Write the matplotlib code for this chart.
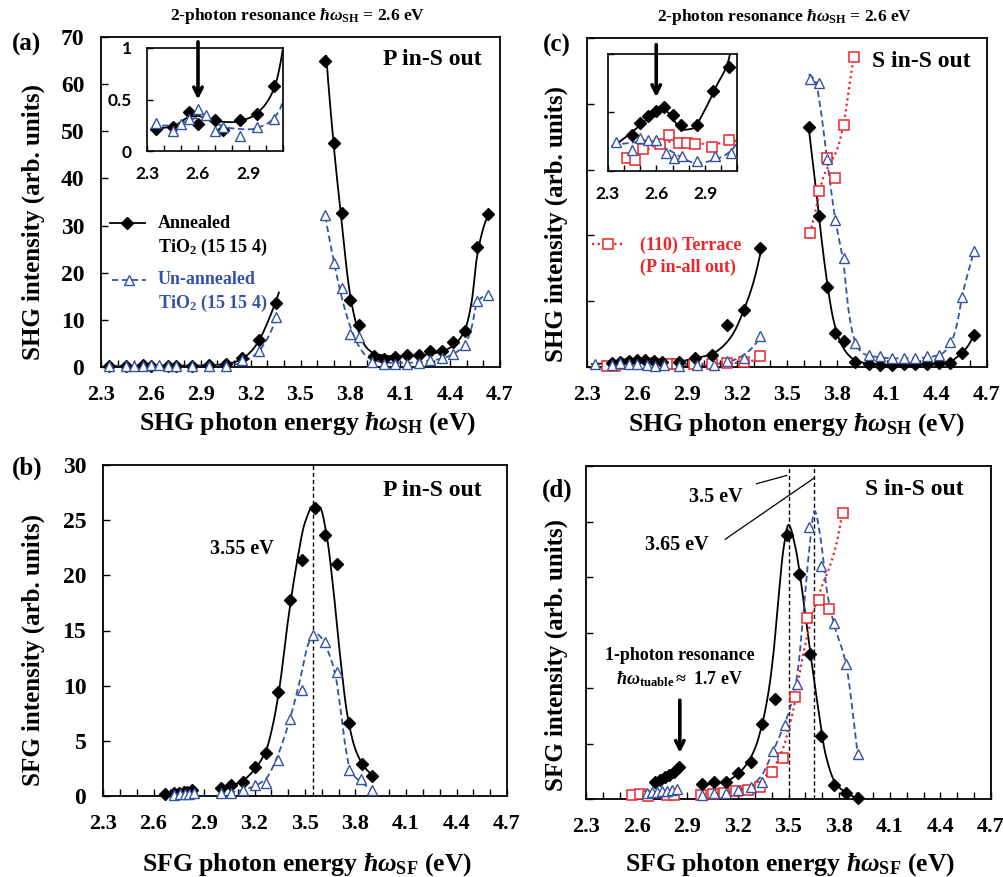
import numpy as np
import matplotlib
matplotlib.use("Agg")
import matplotlib.pyplot as plt
from matplotlib.ticker import MultipleLocator
from matplotlib.lines import Line2D

plt.rcParams['font.family'] = ['Liberation Serif', 'DejaVu Serif']
plt.rcParams['font.weight'] = 'bold'
plt.rcParams['mathtext.fontset'] = 'custom'
plt.rcParams['mathtext.rm'] = 'Liberation Serif:bold'
plt.rcParams['mathtext.it'] = 'Liberation Serif:italic:bold'
plt.rcParams['mathtext.bf'] = 'Liberation Serif:bold'

# ---------------- data ----------------
XTICKS = [2.3, 2.6, 2.9, 3.2, 3.5, 3.8, 4.1, 4.4, 4.7]
XTICK_LABELS = ["2.3", "2.6", "2.9", "3.2", "3.5", "3.8", "4.1", "4.4", "4.7"]
INSET_XTICKS = [2.3, 2.6, 2.9]
INSET_XTICK_LABELS = ["2.3", "2.6", "2.9"]

# (a) SHG, P in-S out
a_ann_E = [2.35, 2.45, 2.55, 2.60, 2.70, 2.75, 2.85, 2.95, 3.05, 3.15, 3.25, 3.35,
           3.65, 3.70, 3.75, 3.80, 3.85, 3.94, 4.00, 4.07, 4.14, 4.21, 4.28, 4.35, 4.42, 4.49, 4.56, 4.63]
a_ann_I = [0.21, 0.23, 0.38, 0.26, 0.30, 0.20, 0.30, 0.36, 0.63, 1.9, 5.7, 13.6,
           65.0, 47.5, 32.7, 14.3, 8.9, 2.3, 1.8, 2.1, 2.5, 2.5, 3.3, 3.3, 5.4, 7.6, 25.4, 32.5]
a_un_E = [2.35, 2.45, 2.50, 2.55, 2.60, 2.65, 2.70, 2.75, 2.85, 2.95, 3.05, 3.15, 3.25, 3.35,
          3.65, 3.70, 3.75, 3.80, 3.85, 3.93, 4.00, 4.07, 4.14, 4.21, 4.28, 4.35, 4.42, 4.49, 4.56, 4.63]
a_un_I = [0.27, 0.19, 0.26, 0.31, 0.41, 0.35, 0.19, 0.23, 0.15, 0.23, 0.31, 1.5, 3.3, 10.6,
          32.2, 22.0, 16.7, 7.1, 6.4, 1.1, 0.7, 0.7, 0.7, 0.9, 1.5, 1.9, 2.7, 4.7, 13.9, 15.3]
a_ann_fit_low_E = [2.33, 2.45, 2.55, 2.60, 2.70, 2.80, 2.90, 2.98, 3.05, 3.10, 3.15, 3.20, 3.25, 3.30, 3.35, 3.37]
a_ann_fit_low_I = [0.21, 0.24, 0.33, 0.34, 0.29, 0.28, 0.32, 0.42, 0.62, 1.0, 1.8, 3.2, 5.6, 9.3, 13.8, 15.8]
a_un_fit_low_E = [2.33, 2.45, 2.55, 2.62, 2.70, 2.80, 2.90, 3.00, 3.08, 3.15, 3.20, 3.25, 3.30, 3.36]
a_un_fit_low_I = [0.24, 0.25, 0.30, 0.33, 0.27, 0.22, 0.21, 0.26, 0.40, 1.0, 1.9, 3.4, 6.0, 11.0]
a_ann_fit_high_E = [3.655, 3.70, 3.75, 3.80, 3.85, 3.90, 3.95, 4.05, 4.15, 4.25, 4.35, 4.42, 4.49, 4.53, 4.56, 4.60, 4.63]
a_ann_fit_high_I = [66, 47, 30, 15, 7.5, 4.0, 2.8, 2.3, 2.3, 2.6, 3.3, 4.6, 8.0, 14.0, 23.0, 29.5, 32.5]
a_un_fit_high_E = [3.65, 3.70, 3.75, 3.80, 3.85, 3.90, 3.95, 4.05, 4.15, 4.25, 4.35, 4.42, 4.49, 4.53, 4.56, 4.60, 4.63]
a_un_fit_high_I = [32, 22.5, 14.5, 8.5, 4.5, 2.2, 1.3, 0.9, 0.9, 1.2, 1.8, 2.8, 4.8, 8.5, 13.5, 15.0, 15.5]

# (b) SFG, P in-S out
b_ann_E = [2.67, 2.72, 2.75, 2.78, 2.80, 2.83, 3.00, 3.06, 3.13, 3.20, 3.27, 3.34, 3.41, 3.48,
           3.56, 3.62, 3.69, 3.76, 3.84, 3.90]
b_ann_I = [0.18, 0.3, 0.3, 0.35, 0.4, 0.55, 0.7, 1.0, 1.3, 2.6, 3.9, 9.4, 17.8, 21.4,
           26.1, 23.7, 21.0, 6.6, 2.9, 1.8]
b_un_E = [2.72, 2.76, 2.79, 2.81, 2.84, 3.00, 3.06, 3.13, 3.20, 3.27, 3.34, 3.41, 3.48, 3.55,
          3.62, 3.69, 3.76, 3.83, 3.90]
b_un_I = [0.1, 0.15, 0.2, 0.2, 0.25, 0.3, 0.3, 0.5, 1.0, 1.2, 3.3, 7.0, 9.6, 14.6,
          14.0, 11.2, 2.4, 1.5, 0.5]
b_ann_fit_E = [2.99, 3.06, 3.13, 3.20, 3.27, 3.31, 3.35, 3.40, 3.45, 3.50, 3.55, 3.59, 3.63, 3.67,
               3.71, 3.75, 3.80, 3.85, 3.91]
b_ann_fit_I = [0.6, 0.9, 1.4, 2.4, 4.2, 6.5, 10.0, 16.0, 21.0, 24.8, 26.3, 26.1, 23.5, 18.5,
               12.5, 7.5, 4.2, 2.7, 1.7]
b_un_fit_E = [2.99, 3.06, 3.13, 3.20, 3.27, 3.32, 3.37, 3.42, 3.47, 3.52, 3.555, 3.60, 3.64, 3.68,
              3.71, 3.74, 3.77, 3.83, 3.90]
b_un_fit_I = [0.3, 0.35, 0.55, 0.9, 1.6, 3.0, 5.0, 7.5, 10.5, 13.8, 14.8, 14.3, 13.0, 11.0,
              8.0, 4.5, 2.3, 1.3, 0.5]
b_peak = 3.55

# (c) SHG, S in-S out (+ terrace)
c_ann_E = [2.45, 2.50, 2.55, 2.60, 2.65, 2.70, 2.75, 2.85, 2.95, 3.05, 3.14, 3.24, 3.34,
           3.63, 3.69, 3.74, 3.79, 3.84, 3.91, 3.99, 4.06, 4.13, 4.20, 4.27, 4.34, 4.41, 4.48, 4.55, 4.62]
c_ann_I = [0.62, 0.82, 0.94, 1.02, 1.10, 0.96, 0.78, 0.78, 1.36, 1.78, 6.4, 8.7, 18.1,
           36.5, 22.9, 12.1, 5.1, 4.0, 0.7, 0.5, 0.3, 0.3, 0.5, 0.5, 0.5, 0.55, 0.55, 2.2, 4.8]
c_un_E = [2.35, 2.45, 2.50, 2.55, 2.60, 2.66, 2.71, 2.76, 2.85, 2.96, 3.06, 3.14, 3.24, 3.34,
          3.64, 3.69, 3.74, 3.79, 3.84, 3.91, 3.99, 4.06, 4.13, 4.20, 4.27, 4.34, 4.41, 4.48, 4.55, 4.62]
c_un_I = [0.50, 0.36, 0.56, 0.52, 0.52, 0.30, 0.22, 0.26, 0.16, 0.26, 0.30, 0.96, 1.3, 4.7,
          43.7, 43.1, 31.6, 22.4, 16.6, 3.6, 1.8, 1.7, 1.3, 1.3, 1.3, 1.7, 1.8, 3.8, 10.7, 17.7]
c_ter_E = [2.42, 2.47, 2.52, 2.62, 2.68, 2.74, 2.79, 2.84, 2.94, 3.05, 3.14, 3.24, 3.34,
           3.64, 3.69, 3.74, 3.79, 3.84, 3.90]
c_ter_I = [0.22, 0.18, 0.38, 0.46, 0.62, 0.48, 0.48, 0.46, 0.40, 0.52, 0.55, 0.7, 1.67,
           20.3, 26.8, 31.8, 28.7, 36.8, 47.1]
c_ann_fit_low_E = [2.33, 2.45, 2.55, 2.64, 2.70, 2.76, 2.82, 2.90, 2.97, 3.04, 3.10, 3.17, 3.24, 3.30, 3.35]
c_ann_fit_low_I = [0.42, 0.66, 0.90, 1.07, 0.90, 0.70, 0.72, 1.05, 1.45, 1.85, 2.8, 4.8, 8.6, 13.0, 18.5]
c_un_fit_low_E = [2.33, 2.45, 2.55, 2.65, 2.75, 2.85, 2.95, 3.05, 3.15, 3.25, 3.35]
c_un_fit_low_I = [0.44, 0.48, 0.52, 0.40, 0.24, 0.13, 0.18, 0.32, 0.8, 2.0, 5.0]
c_ter_fit_low_E = [2.42, 2.50, 2.60, 2.70, 2.80, 2.90, 3.00, 3.10, 3.20, 3.30, 3.35]
c_ter_fit_low_I = [0.22, 0.30, 0.44, 0.50, 0.48, 0.46, 0.47, 0.52, 0.62, 1.0, 1.6]
c_ann_fit_high_E = [3.63, 3.67, 3.70, 3.74, 3.78, 3.82, 3.87, 3.92, 4.00, 4.10, 4.20, 4.30, 4.40, 4.48, 4.53, 4.58, 4.62]
c_ann_fit_high_I = [36.5, 28, 21, 13, 7, 3.8, 1.8, 0.9, 0.5, 0.35, 0.4, 0.45, 0.55, 0.9, 1.7, 3.0, 4.8]
c_un_fit_high_E = [3.63, 3.67, 3.70, 3.74, 3.79, 3.84, 3.87, 3.91, 3.96, 4.05, 4.15, 4.25, 4.35, 4.42, 4.48, 4.52, 4.55, 4.62]
c_un_fit_high_I = [44.5, 43.5, 39.5, 31.6, 22.4, 15.5, 8.5, 3.8, 2.0, 1.5, 1.3, 1.3, 1.5, 1.9, 3.5, 6.5, 10.7, 17.7]
c_ter_fit_high_E = [3.63, 3.66, 3.69, 3.72, 3.76, 3.80, 3.84, 3.87, 3.905]
c_ter_fit_high_I = [19.5, 22.5, 26.0, 29.0, 31.0, 33.0, 37.0, 42.0, 48.0]

# (d) SFG, S in-S out (+ terrace)
d_ann_E = [2.71, 2.74, 2.77, 2.79, 2.82, 2.85, 2.99, 3.06, 3.13, 3.20, 3.28, 3.34, 3.42, 3.49,
           3.56, 3.63, 3.69, 3.77, 3.84, 3.91]
d_ann_I = [3.0, 3.4, 4.0, 4.4, 4.9, 5.8, 2.7, 3.1, 3.1, 4.7, 6.7, 13.5, 18.0, 47.6,
           40.5, 26.1, 11.4, 2.5, 1.1, 0.1]
d_un_E = [2.66, 2.69, 2.72, 2.75, 2.78, 2.81, 2.84, 2.99, 3.06, 3.13, 3.20, 3.28, 3.34, 3.41,
          3.48, 3.55, 3.62, 3.69, 3.77, 3.84, 3.91]
d_un_I = [1.0, 1.3, 1.3, 1.5, 1.5, 1.7, 1.8, 0.8, 1.1, 1.1, 1.7, 2.2, 3.0, 8.7,
          13.3, 20.8, 49.0, 42.0, 31.7, 24.4, 8.1]
d_ter_E = [2.57, 2.62, 2.67, 2.78, 2.82, 2.98, 3.05, 3.12, 3.19, 3.26, 3.33, 3.40, 3.47,
           3.54, 3.61, 3.68, 3.74, 3.82]
d_ter_I = [0.7, 0.9, 0.6, 0.8, 0.8, 0.7, 0.9, 1.1, 1.5, 1.7, 2.1, 4.9, 7.3,
           18.4, 32.6, 35.9, 34.2, 51.5]
d_ann_fit_E = [2.97, 3.06, 3.13, 3.20, 3.25, 3.30, 3.34, 3.38, 3.41, 3.44, 3.47, 3.50, 3.54, 3.57,
               3.60, 3.64, 3.68, 3.72, 3.78, 3.86, 3.91]
d_ann_fit_I = [2.4, 2.8, 3.2, 4.5, 6.2, 9.0, 13.0, 19.0, 26.0, 36.0, 45.0, 49.4, 45.5, 40.0,
               33.0, 24.0, 15.5, 8.0, 2.8, 0.8, 0.1]
d_un_fit_E = [2.97, 3.10, 3.20, 3.28, 3.34, 3.40, 3.45, 3.50, 3.55, 3.59, 3.62, 3.655, 3.69, 3.73,
              3.77, 3.84, 3.91]
d_un_fit_I = [0.8, 1.1, 1.6, 2.5, 4.2, 8.0, 11.5, 15.5, 22.0, 34.0, 44.0, 51.9, 47.0, 37.0,
              31.5, 24.4, 8.1]
d_ter_fit_E = [3.26, 3.30, 3.35, 3.41, 3.46, 3.50, 3.54, 3.58, 3.62, 3.66, 3.70, 3.74, 3.78, 3.82]
d_ter_fit_I = [1.7, 2.6, 3.8, 5.6, 8.5, 12.4, 17.8, 25.0, 30.5, 35.0, 38.5, 41.5, 45.5, 51.5]
d_peaks = [3.5, 3.65]

BLUE = '#3553A4'
RED = '#E8262B'
W, H = 1004, 877


def rect(l, t, r, b):
    return [l / W, 1 - b / H, (r - l) / W, (b - t) / H]


def pchip(x, y, xn):
    x = np.asarray(x, float); y = np.asarray(y, float)
    h = np.diff(x); d = np.diff(y) / h
    n = len(x); m = np.zeros(n)
    m[0] = d[0]; m[-1] = d[-1]
    for k in range(1, n - 1):
        if d[k - 1] * d[k] > 0:
            w1 = 2 * h[k] + h[k - 1]; w2 = h[k] + 2 * h[k - 1]
            m[k] = (w1 + w2) / (w1 / d[k - 1] + w2 / d[k])
    idx = np.clip(np.searchsorted(x, xn) - 1, 0, n - 2)
    t = (xn - x[idx]) / h[idx]
    h00 = 2 * t**3 - 3 * t**2 + 1; h10 = t**3 - 2 * t**2 + t
    h01 = -2 * t**3 + 3 * t**2; h11 = t**3 - t**2
    return h00 * y[idx] + h10 * h[idx] * m[idx] + h01 * y[idx + 1] + h11 * h[idx] * m[idx + 1]


def curve(ax, xs, ys, log=False, **kw):
    xn = np.linspace(xs[0], xs[-1], 400)
    if log:
        yn = np.exp(pchip(xs, np.log(ys), xn))
    else:
        yn = pchip(xs, ys, xn)
    ax.plot(xn, yn, **kw)


ANN = dict(color='k', lw=1.3, ls='-')
UN = dict(color=BLUE, lw=1.3, ls=(0, (3.5, 2)))
TER = dict(color=RED, lw=1.6, ls=(0, (1, 1.5)))
MK_ANN = dict(ls='none', marker='D', ms=5.8, mfc='k', mec='k', zorder=5)
MK_UN = dict(ls='none', marker='^', ms=7.5, mfc='white', mec=BLUE, mew=1.0, zorder=6)
MK_TER = dict(ls='none', marker='s', ms=7.3, mfc='white', mec=RED, mew=1.1, zorder=4)


def style_main(ax, ylim, yticks, ylabels=True):
    ax.set_xlim(2.3, 4.7)
    ax.set_ylim(*ylim)
    ax.set_xticks(XTICKS, labels=XTICK_LABELS)
    ax.xaxis.set_minor_locator(MultipleLocator(0.1))
    ax.set_yticks(yticks)
    if not ylabels:
        ax.set_yticklabels([])
    ax.tick_params(axis='both', which='both', direction='in', length=5, width=1.0)
    ax.tick_params(axis='x', labelsize=16, pad=13)
    ax.tick_params(axis='y', labelsize=17, pad=12)
    for s in ax.spines.values():
        s.set_linewidth(1.3)


def style_inset(ax, ylim, yticks, ylabels):
    ax.set_xlim(2.3, 3.1)
    ax.set_ylim(*ylim)
    ax.set_xticks(INSET_XTICKS, labels=INSET_XTICK_LABELS)
    ax.xaxis.set_minor_locator(MultipleLocator(0.1))
    ax.set_yticks(yticks)
    if ylabels is None:
        ax.set_yticklabels([])
    else:
        ax.set_yticklabels(ylabels)
    ax.tick_params(axis='both', which='both', direction='in', length=4, width=1.0)
    ax.tick_params(axis='x', labelsize=12.5, pad=11)
    ax.tick_params(axis='y', labelsize=12.5, pad=11)
    for lab in ax.get_xticklabels() + ax.get_yticklabels():
        lab.set_fontfamily(['Lato', 'DejaVu Sans'])
        lab.set_fontweight('bold')
    for s in ax.spines.values():
        s.set_linewidth(1.2)


fig = plt.figure(figsize=(10.04, 8.77), dpi=100)


def ftext(px, py, s, **kw):
    return fig.text(px / W, 1 - py / H, s, **kw)


# ---------------- (a) ----------------
ax = fig.add_axes(rect(101, 37, 500, 367))
style_main(ax, (0, 70), [0, 10, 20, 30, 40, 50, 60, 70])
curve(ax, a_ann_fit_low_E, a_ann_fit_low_I, log=True, **ANN)
curve(ax, a_ann_fit_high_E, a_ann_fit_high_I, log=True, **ANN)
curve(ax, a_un_fit_low_E, a_un_fit_low_I, log=True, **UN)
curve(ax, a_un_fit_high_E, a_un_fit_high_I, log=True, **UN)
ax.plot(a_ann_E, a_ann_I, clip_on=False, **MK_ANN)
ax.plot(a_un_E, a_un_I, clip_on=False, **MK_UN)
ax.text(0.83, 0.933, "P in-S out", transform=ax.transAxes, ha='center', va='center', fontsize=17)

ins = fig.add_axes(rect(147, 48, 283, 151))
style_inset(ins, (0, 1), [0, 0.5, 1], ["0", "0.5", "1"])
curve(ins, a_ann_fit_low_E, a_ann_fit_low_I, log=True, **ANN)
curve(ins, a_un_fit_low_E, a_un_fit_low_I, log=True, **UN)
ins.plot(a_ann_E, a_ann_I, **MK_ANN)
ins.plot(a_un_E, a_un_I, **MK_UN)
ins.annotate('', xy=(2.6, 0.5), xytext=(2.6, 1.06), annotation_clip=False,
             arrowprops=dict(arrowstyle='->,head_length=0.6,head_width=0.3', lw=2.6, color='k',
                             shrinkA=0, shrinkB=0))

# legend (a)
fig.add_artist(Line2D([110 / W, 145 / W], [1 - 223 / H] * 2, transform=fig.transFigure, **ANN))
fig.add_artist(Line2D([127 / W], [1 - 223 / H], transform=fig.transFigure, **MK_ANN))
fig.add_artist(Line2D([112 / W, 146 / W], [1 - 280 / H] * 2, transform=fig.transFigure, **UN))
fig.add_artist(Line2D([129 / W], [1 - 280 / H], transform=fig.transFigure, **MK_UN))
ftext(158, 224, "Annealed", ha='left', va='center', fontsize=13)
ftext(158, 247, r"TiO$_{\mathrm{2}}$ (15 15 4)", ha='left', va='center', fontsize=13)
ftext(158, 280, "Un-annealed", ha='left', va='center', fontsize=13, color=BLUE)
ftext(158, 303, r"TiO$_{\mathrm{2}}$ (15 15 4)", ha='left', va='center', fontsize=13, color=BLUE)

# ---------------- (c) ----------------
ax = fig.add_axes(rect(587, 38, 987, 367))
style_main(ax, (0, 50), [0, 10, 20, 30, 40, 50], ylabels=False)
curve(ax, c_ann_fit_low_E, c_ann_fit_low_I, log=True, **ANN)
curve(ax, c_ann_fit_high_E, c_ann_fit_high_I, log=True, **ANN)
curve(ax, c_un_fit_low_E, c_un_fit_low_I, log=True, **UN)
curve(ax, c_un_fit_high_E, c_un_fit_high_I, log=True, **UN)
curve(ax, c_ter_fit_low_E, c_ter_fit_low_I, log=True, **TER)
curve(ax, c_ter_fit_high_E, c_ter_fit_high_I, log=False, **TER)
ax.plot(c_ter_E, c_ter_I, clip_on=False, **MK_TER)
ax.plot(c_ann_E, c_ann_I, clip_on=False, **MK_ANN)
ax.plot(c_un_E, c_un_I, clip_on=False, **MK_UN)
ax.text(0.835, 0.93, "S in-S out", transform=ax.transAxes, ha='center', va='center', fontsize=17)

ins = fig.add_axes(rect(607.5, 54, 737.5, 170.7))
style_inset(ins, (0, 2), [0, 1, 2], None)
curve(ins, c_ann_fit_low_E, c_ann_fit_low_I, log=True, **ANN)
curve(ins, c_un_fit_low_E, c_un_fit_low_I, log=True, **UN)
curve(ins, c_ter_fit_low_E, c_ter_fit_low_I, log=True, **TER)
ins.plot(c_ter_E, c_ter_I, **MK_TER)
ins.plot(c_ann_E, c_ann_I, **MK_ANN)
ins.plot(c_un_E, c_un_I, **MK_UN)
ins.annotate('', xy=(2.6, 1.26), xytext=(2.6, 2.16), annotation_clip=False,
             arrowprops=dict(arrowstyle='->,head_length=0.6,head_width=0.3', lw=2.6, color='k',
                             shrinkA=0, shrinkB=0))

fig.add_artist(Line2D([592 / W, 624 / W], [1 - 244 / H] * 2, transform=fig.transFigure, **TER))
fig.add_artist(Line2D([608 / W], [1 - 244 / H], transform=fig.transFigure, **MK_TER))
ftext(640, 245, "(110) Terrace", ha='left', va='center', fontsize=13, color=RED)
ftext(640, 267, "(P in-all out)", ha='left', va='center', fontsize=13, color=RED)

# ---------------- (b) ----------------
ax = fig.add_axes(rect(103, 465, 507, 796))
style_main(ax, (0, 30), [0, 5, 10, 15, 20, 25, 30])
ax.axvline(b_peak, color='k', lw=1.0, ls=(0, (3, 2)))
curve(ax, b_ann_fit_E, b_ann_fit_I, **ANN)
curve(ax, b_un_fit_E, b_un_fit_I, **UN)
ax.plot(b_ann_E[:6], b_ann_I[:6], color='k', lw=1.0)
ax.plot(b_un_E[:5], b_un_I[:5], color=BLUE, lw=1.0, ls=(0, (3.5, 2)))
ax.plot(b_ann_E, b_ann_I, clip_on=False, **MK_ANN)
ax.plot(b_un_E, b_un_I, clip_on=False, **MK_UN)
ax.text(3.126, 22.4, "3.55 eV", ha='center', va='center', fontsize=14.5)
ax.text(0.814, 0.924, "P in-S out", transform=ax.transAxes, ha='center', va='center', fontsize=17)

# ---------------- (d) ----------------
ax = fig.add_axes(rect(586, 466, 991, 799))
style_main(ax, (0, 60), [0, 10, 20, 30, 40, 50, 60], ylabels=False)
for p in d_peaks:
    ax.axvline(p, color='k', lw=1.0, ls=(0, (3, 2)))
curve(ax, d_ann_fit_E, d_ann_fit_I, **ANN)
curve(ax, d_un_fit_E, d_un_fit_I, **UN)
curve(ax, d_ter_fit_E, d_ter_fit_I, **TER)
ax.plot(d_ann_E[:6], d_ann_I[:6], color='k', lw=1.0)
ax.plot(d_un_E[:7], d_un_I[:7], color=BLUE, lw=1.0, ls=(0, (3.5, 2)))
ax.plot(d_ter_E, d_ter_I, clip_on=False, **MK_TER)
ax.plot(d_ann_E, d_ann_I, clip_on=False, **MK_ANN)
ax.plot(d_un_E, d_un_I, clip_on=False, **MK_UN)
ax.text(3.07, 54.4, "3.5 eV", ha='center', va='center', fontsize=14.5)
ax.text(2.84, 45.8, "3.65 eV", ha='center', va='center', fontsize=14.5)
ax.plot([3.31, 3.49], [56.8, 58.3], color='k', lw=0.9)
ax.plot([3.125, 3.65], [46.8, 57.8], color='k', lw=0.9)
ax.text(2.856, 25.9, "1-photon resonance", ha='center', va='center', fontsize=13)
ax.text(2.856, 21.6, r"$\hbar\omega_{\mathrm{tuable}}\approx$ 1.7 eV", ha='center', va='center', fontsize=13)
ax.annotate('', xy=(2.856, 8.3), xytext=(2.856, 17.8),
            arrowprops=dict(arrowstyle='->,head_length=0.6,head_width=0.3', lw=2.6, color='k',
                            shrinkA=0, shrinkB=0))
ax.text(0.81, 0.93, "S in-S out", transform=ax.transAxes, ha='center', va='center', fontsize=17)

# ---------------- labels ----------------
ftext(27, 44, "(a)", ha='center', va='center', fontsize=18)
ftext(27, 468, "(b)", ha='center', va='center', fontsize=18)
ftext(557, 45, "(c)", ha='center', va='center', fontsize=18)
ftext(557, 490, "(d)", ha='center', va='center', fontsize=18)

ftext(298, 16, r"2-photon resonance $\hbar\omega_{\mathrm{SH}}$ = 2.6 eV", ha='center', va='center', fontsize=12.5)
ftext(785, 17, r"2-photon resonance $\hbar\omega_{\mathrm{SH}}$ = 2.6 eV", ha='center', va='center', fontsize=12.5)

ftext(308, 424, r"SHG photon energy $\hbar\omega_{\mathrm{SH}}$ (eV)", ha='center', va='center', fontsize=18.5)
ftext(797, 425, r"SHG photon energy $\hbar\omega_{\mathrm{SH}}$ (eV)", ha='center', va='center', fontsize=18.5)
ftext(307, 865, r"SFG photon energy $\hbar\omega_{\mathrm{SF}}$ (eV)", ha='center', va='center', fontsize=18.5)
ftext(790, 865, r"SFG photon energy $\hbar\omega_{\mathrm{SF}}$ (eV)", ha='center', va='center', fontsize=18.5)

ftext(33, 222, "SHG intensity (arb. units)", ha='center', va='center', rotation=90, fontsize=18)
ftext(556, 224, "SHG intensity (arb. units)", ha='center', va='center', rotation=90, fontsize=18)
ftext(33, 650, "SFG intensity (arb. units)", ha='center', va='center', rotation=90, fontsize=18)
ftext(556, 655, "SFG intensity (arb. units)", ha='center', va='center', rotation=90, fontsize=18)

fig.savefig("out.png", dpi=100)
